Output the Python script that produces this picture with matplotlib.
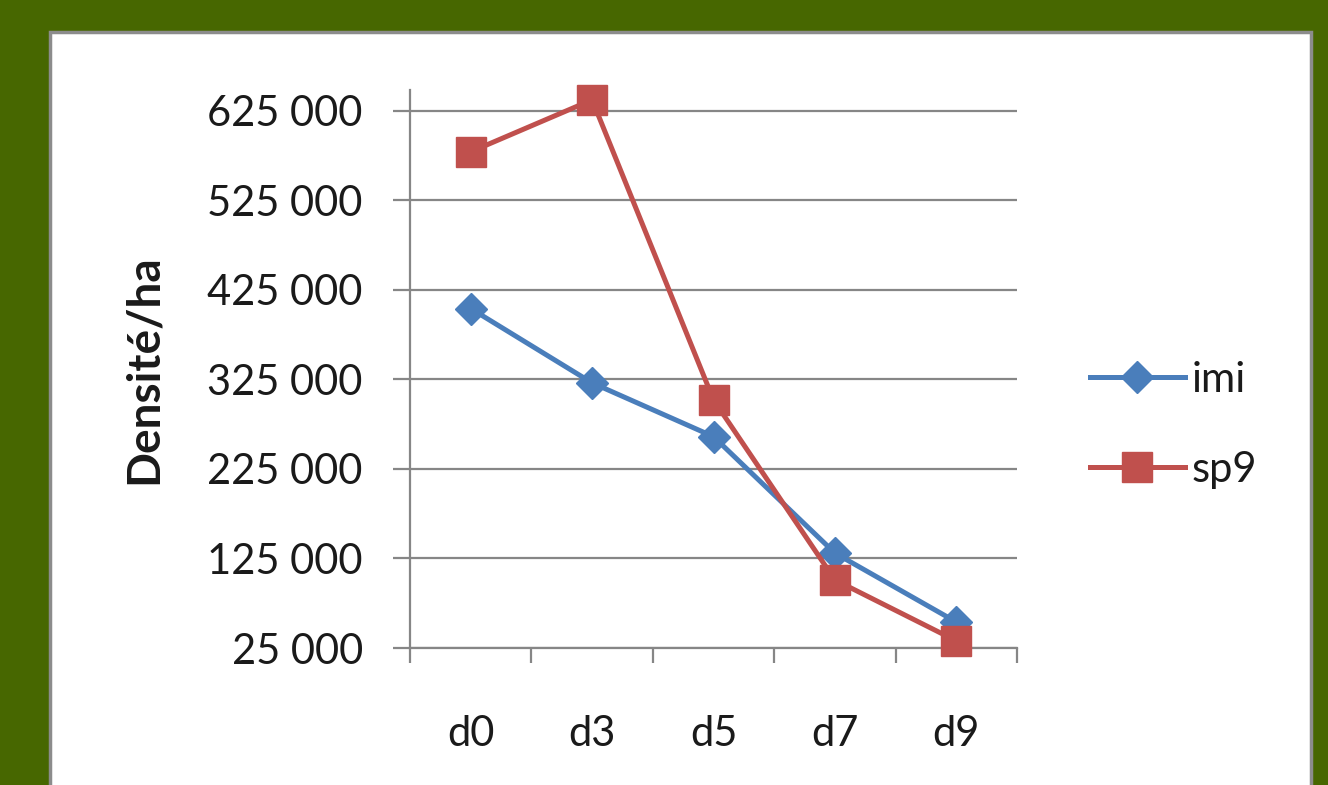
import matplotlib
matplotlib.use('Agg')
import matplotlib.pyplot as plt
from matplotlib.patches import Rectangle
from matplotlib.ticker import FuncFormatter

# Data
days = ['d0', 'd3', 'd5', 'd7', 'd9']
imi = [404000, 321000, 261000, 131000, 54000]
sp9 = [579000, 637000, 302000, 101000, 33000]
y_ticks = [25000, 125000, 225000, 325000, 425000, 525000, 625000]

BLUE = '#4a7ebb'
RED = '#c0504d'
GRID = '#868686'
FONT = 'Lato'

plt.rcParams['font.family'] = [FONT, 'DejaVu Sans']

fig = plt.figure(figsize=(13.28, 7.85), dpi=100)
fig.patch.set_facecolor('#476700')

# white chart panel with grey border
fig.patches.append(Rectangle((50 / 1328, -0.05), (1311 - 50) / 1328, 1.05 - 32 / 785,
                             transform=fig.transFigure, facecolor='white',
                             edgecolor='#8c8c8c', linewidth=2.5, zorder=-5))

ax = fig.add_axes([410 / 1328, 1 - 648 / 785, (1017 - 410) / 1328, (648 - 90) / 785])
ax.set_facecolor('none')
ax.set_zorder(2)

x = list(range(len(days)))
ax.plot(x, imi, color=BLUE, linewidth=3.6, marker='D', markersize=16,
        markerfacecolor=BLUE, markeredgecolor=BLUE, label='imi', zorder=3,
        clip_on=False)
ax.plot(x, sp9, color=RED, linewidth=3.6, marker='s', markersize=21,
        markerfacecolor=RED, markeredgecolor=RED, label='sp9', zorder=4,
        clip_on=False)

ax.set_xlim(-0.5, len(days) - 0.5)
ax.set_ylim(25000, 648000)
ax.set_yticks(y_ticks)
ax.yaxis.set_major_formatter(FuncFormatter(lambda v, p: f'{int(v):,}'.replace(',', ' ')))
ax.set_xticks(x)
ax.set_xticklabels(days)
ax.set_xticks([i - 0.5 for i in range(len(days) + 1)], minor=True)

ax.grid(axis='y', color=GRID, linewidth=1.6, zorder=1)
ax.set_axisbelow(True)
for s in ['top', 'right']:
    ax.spines[s].set_visible(False)
for s in ['left', 'bottom']:
    ax.spines[s].set_color(GRID)
    ax.spines[s].set_linewidth(1.6)

ax.tick_params(axis='y', direction='out', length=12, width=1.6, color=GRID,
               labelsize=30, pad=22, labelcolor='#1a1a1a')
ax.tick_params(axis='x', which='major', length=0, labelsize=30, pad=48,
               labelcolor='#1a1a1a')
ax.tick_params(axis='x', which='minor', direction='out', length=11, width=1.6,
               color=GRID)

ax.set_ylabel('Densité/ha', fontsize=33, fontweight='bold', color='#1a1a1a')
ax.yaxis.set_label_coords(-0.404, 0.5)

ax.legend(loc='center left', bbox_to_anchor=(1052 / 1328, 1 - 425 / 785),
          bbox_transform=fig.transFigure, frameon=False, fontsize=30,
          handlelength=2.3, handletextpad=0.15, labelspacing=1.25,
          labelcolor='#1a1a1a')

plt.savefig('out.png', dpi=100, facecolor=fig.get_facecolor())
